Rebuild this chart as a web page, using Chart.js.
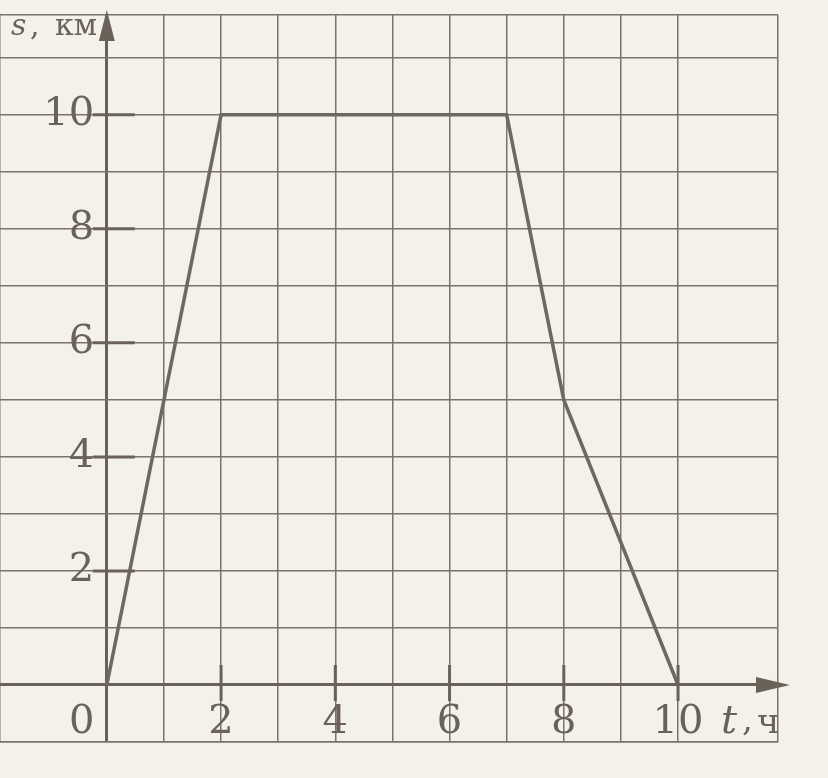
<!DOCTYPE html>
<html>
<head>
<meta charset="utf-8">
<script src="https://cdn.jsdelivr.net/npm/chart.js"></script>
<style>
  html, body { margin: 0; padding: 0; background: #f4f1ea; }
  #wrap { width: 828px; height: 778px; }
</style>
</head>
<body>
<div id="wrap"><canvas id="myChart" width="828" height="778"></canvas></div>
<script>
// s(t) graph: time in hours, distance in km
var times = [0, 2, 7, 8, 10];
var distances = [0, 10, 10, 5, 0];
var xTicks = [2, 4, 6, 8, 10];
var yTicks = [2, 4, 6, 8, 10];

var ink = '#6a6159';
var gridInk = '#7b726a';
var serif = '"DejaVu Serif", "Liberation Serif", serif';

// positioned label axes should not push the plot area around
function noPadding(s) {
    s.paddingTop = 0; s.paddingBottom = 0; s.paddingLeft = 0; s.paddingRight = 0;
}
// the zero grid line doubles as the coordinate axis
function gridWidth(c) { return c.tick && c.tick.value === 0 ? 3 : 1.5; }
function gridColor(c) { return c.tick && c.tick.value === 0 ? ink : gridInk; }

var decor = {
    id: 'decor',
    beforeDraw: function(chart) {
        var c = chart.ctx;
        c.save();
        c.fillStyle = '#f4f1ea';
        c.fillRect(0, 0, chart.width, chart.height);
        c.restore();
    },
    afterDraw: function(chart) {
        var c = chart.ctx;
        var xs = chart.scales.x, ys = chart.scales.y;
        var x0 = xs.getPixelForValue(0), y0 = ys.getPixelForValue(0);
        c.save();
        c.strokeStyle = ink;
        c.fillStyle = ink;
        c.lineWidth = 3;
        // tick marks across the axes
        chart.scales.ya.ticks.forEach(function(t) {
            var y = ys.getPixelForValue(t.value);
            c.beginPath(); c.moveTo(x0 - 14, y); c.lineTo(x0 + 28, y); c.stroke();
        });
        chart.scales.xa.ticks.forEach(function(t) {
            var x = xs.getPixelForValue(t.value);
            c.beginPath(); c.moveTo(x, y0 - 20); c.lineTo(x, y0 + 16); c.stroke();
        });
        // arrows
        var top = chart.chartArea.top;
        c.beginPath();
        c.moveTo(x0, top - 5); c.lineTo(x0 - 8, top + 26); c.lineTo(x0 + 8, top + 26); c.closePath(); c.fill();
        var right = chart.chartArea.right;
        c.beginPath();
        c.moveTo(right + 12, y0); c.lineTo(right - 22, y0 - 8); c.lineTo(right - 22, y0 + 8); c.closePath(); c.fill();
        // labels
        c.textBaseline = 'alphabetic';
        c.textAlign = 'center';
        c.font = '40px ' + serif;
        c.fillText('0', x0 - 25, y0 + 48);
        c.textAlign = 'left';
        c.font = 'italic 30px ' + serif;
        c.fillText('s', 11, 35);
        c.font = '30px ' + serif;
        c.fillText(',', 30, 35);
        c.fillText('км', 55, 35);
        c.font = 'italic 40px ' + serif;
        c.fillText('t', 721, y0 + 48);
        c.font = '34px ' + serif;
        c.fillText(',', 742, y0 + 46);
        c.fillText('ч', 757, y0 + 48);
        c.restore();
    }
};

var ctx = document.getElementById("myChart").getContext("2d");
var myChart = new Chart(ctx, {
    type: 'line',
    data: {
        datasets: [{
            data: times.map(function(t, i) { return {x: t, y: distances[i]}; }),
            borderColor: '#6f6761',
            borderWidth: 3.5,
            pointRadius: 0,
            fill: false,
            tension: 0
        }]
    },
    options: {
        responsive: false,
        animation: false,
        layout: { padding: { left: 0, top: 15, right: 50, bottom: 36 } },
        plugins: { legend: { display: false }, tooltip: { enabled: false } },
        scales: {
            x: {
                type: 'linear', min: -1.87, max: 11.75,
                ticks: { display: false, stepSize: 1 },
                grid: { color: gridColor, lineWidth: gridWidth, drawTicks: false },
                border: { display: true, color: gridInk, width: 1.5 }
            },
            y: {
                type: 'linear', min: -1, max: 11.75,
                ticks: { display: false, stepSize: 1 },
                grid: { color: gridColor, lineWidth: gridWidth, drawTicks: false },
                border: { display: false }
            },
            xa: {
                type: 'linear', axis: 'x', min: -1.87, max: 11.75,
                position: { y: 0 },
                afterBuildTicks: function(s) { s.ticks = xTicks.map(function(v) { return {value: v}; }); },
                afterFit: noPadding,
                ticks: { color: ink, font: { family: serif, size: 40 }, padding: 14 },
                grid: { display: false, drawTicks: false },
                border: { display: false }
            },
            ya: {
                type: 'linear', axis: 'y', min: -1, max: 11.75,
                position: { x: -0.22 },
                afterBuildTicks: function(s) { s.ticks = yTicks.map(function(v) { return {value: v}; }); },
                afterFit: noPadding,
                ticks: { color: ink, font: { family: serif, size: 40 } },
                grid: { display: false, drawTicks: false },
                border: { display: false }
            }
        }
    },
    plugins: [decor]
});
</script>
</body>
</html>
